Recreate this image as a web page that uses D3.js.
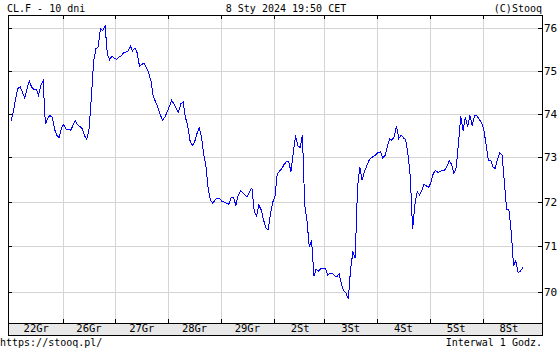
<!DOCTYPE html>
<html>
<head>
<meta charset="utf-8">
<script src="https://cdn.jsdelivr.net/npm/d3@7"></script>
<style>
  body { margin: 0; background: #fff; }
  text { font-family: "DejaVu Sans Mono", monospace; fill: #000; }
</style>
</head>
<body>
<script>
// hourly closes, CL.F, 22 Dec 2023 - 8 Jan 2024
var closes = [
  73.83, 74.05, 74.35, 74.59, 74.63, 74.50, 74.37, 74.59, 74.76, 74.62,
  74.56, 74.57, 74.43, 74.67, 74.76, 73.76, 73.90, 73.96, 73.92, 73.64,
  73.50, 73.45, 73.68, 73.76, 73.64, 73.64, 73.62, 73.73, 73.85, 73.75,
  73.71, 73.66, 73.50, 73.41, 73.64, 74.36, 75.22, 75.52, 75.56, 76.00,
  75.94, 76.07, 75.38, 75.26, 75.35, 75.29, 75.27, 75.32, 75.35, 75.42,
  75.44, 75.46, 75.58, 75.47, 75.54, 75.42, 75.11, 75.15, 75.18, 75.08,
  74.95, 74.76, 74.40, 74.28, 74.15, 73.99, 73.85, 73.92, 74.04, 74.17,
  74.31, 74.23, 74.12, 74.04, 74.23, 74.28, 73.92, 73.73, 73.39, 73.27,
  73.35, 73.54, 73.68, 73.47, 73.07, 72.78, 72.25, 72.03, 71.96, 72.05,
  72.07, 72.07, 72.00, 71.99, 71.96, 71.94, 72.10, 72.08, 71.92, 72.14,
  72.24, 72.20, 72.14, 72.11, 72.23, 72.31, 71.78, 71.67, 71.92, 71.82,
  71.60, 71.42, 71.36, 71.69, 71.98, 72.10, 72.61, 72.69, 72.74, 72.84,
  72.90, 72.90, 72.68, 73.09, 73.50, 73.27, 73.22, 73.52, 71.92, 71.56,
  70.98, 71.13, 70.34, 70.50, 70.45, 70.51, 70.51, 70.52, 70.37, 70.41,
  70.40, 70.35, 70.33, 70.39, 70.17, 70.02, 69.97, 69.84, 70.51, 70.87,
  70.74, 72.30, 72.79, 72.48, 72.67, 72.80, 72.93, 72.99, 73.03, 73.06,
  73.11, 73.13, 72.99, 73.04, 73.24, 73.43, 73.39, 73.48, 73.71, 73.43,
  73.51, 73.45, 73.40, 73.07, 72.57, 71.38, 71.92, 72.22, 72.15, 72.25,
  72.40, 72.35, 72.32, 72.43, 72.63, 72.70, 72.66, 72.68, 72.70, 72.71,
  72.80, 72.93, 72.84, 72.63, 72.76, 73.32, 73.95, 73.61, 73.93, 73.69,
  73.96, 73.73, 73.95, 73.95, 73.88, 73.80, 73.66, 73.30, 72.93, 72.94,
  72.78, 72.75, 72.96, 73.10, 73.05, 72.44, 71.82, 71.81, 71.31, 70.58,
  70.68, 70.42, 70.45, 70.53
]
var dayLabels = ["22Gr", "26Gr", "27Gr", "28Gr", "29Gr", "2St", "3St", "4St", "5St", "8St"]
var dayStarts = [0, 23, 46, 69, 92, 115, 137, 160, 183, 206]   // index of first hour of each session
var priceTicks = [70, 71, 72, 73, 74, 75, 76]

var svgWidth = 560
var svgHeight = 350
var plot = {left: 8, right: 542, top: 15, bottom: 323}
var stripBottom = 335

var svg = d3.select("body").append("svg")
    .attr("width", svgWidth)
    .attr("height", svgHeight)

var x = d3.scaleLinear().domain([-1.3, 231.4]).range([plot.left, plot.right])
var y = d3.scaleLog().domain([69.32, 76.32]).range([plot.bottom, plot.top])

// grid
svg.append("g").selectAll("line.h")
    .data(priceTicks).enter().append("line")
    .attr("x1", plot.left).attr("x2", plot.right)
    .attr("y1", d => Math.round(y(d)) + 0.5).attr("y2", d => Math.round(y(d)) + 0.5)
    .attr("stroke", "#d4d4d4")

var bounds = dayStarts.slice(1)
svg.append("g").selectAll("line.v")
    .data(bounds).enter().append("line")
    .attr("x1", d => Math.round(x(d - 0.5)) + 0.5).attr("x2", d => Math.round(x(d - 0.5)) + 0.5)
    .attr("y1", plot.top).attr("y2", plot.bottom)
    .attr("stroke", "#d4d4d4")

// date strip
svg.append("rect")
    .attr("x", plot.left + 0.5).attr("y", plot.bottom + 0.5)
    .attr("width", plot.right - plot.left).attr("height", stripBottom - plot.bottom)
    .attr("fill", "#e8e8e8").attr("stroke", "#000")

// ticks
var ticks = svg.append("g").attr("stroke", "#000")
bounds.forEach(d => {
    var xx = Math.round(x(d - 0.5)) + 0.5
    ticks.append("line").attr("x1", xx).attr("x2", xx).attr("y1", plot.top).attr("y2", plot.top + 4)
    ticks.append("line").attr("x1", xx).attr("x2", xx).attr("y1", plot.bottom - 4).attr("y2", plot.bottom)
})
priceTicks.forEach(d => {
    var yy = Math.round(y(d)) + 0.5
    ticks.append("line").attr("x1", plot.left).attr("x2", plot.left + 4).attr("y1", yy).attr("y2", yy)
    ticks.append("line").attr("x1", plot.right - 4).attr("x2", plot.right).attr("y1", yy).attr("y2", yy)
})

// frame
svg.append("rect")
    .attr("x", plot.left + 0.5).attr("y", plot.top + 0.5)
    .attr("width", plot.right - plot.left).attr("height", stripBottom - plot.top)
    .attr("fill", "none").attr("stroke", "#000")

// price line, drawn without antialiasing like the original
var line = d3.line()
    .x((d, i) => x(i))
    .y(d => y(d))
svg.append("path")
    .datum(closes)
    .attr("d", line)
    .attr("fill", "none")
    .attr("stroke", "#0000ff")
    .attr("stroke-width", 1)
    .attr("shape-rendering", "crispEdges")

// day labels
svg.append("g").selectAll("text")
    .data(dayLabels).enter().append("text")
    .attr("x", (d, i) => x(dayStarts[i] + 11))
    .attr("y", 332)
    .attr("text-anchor", "middle")
    .style("font-size", "10.5px")
    .text(d => d)

// price labels on the right
svg.append("g").selectAll("text")
    .data(priceTicks).enter().append("text")
    .attr("x", plot.right + 2)
    .attr("y", d => y(d) + 4)
    .style("font-size", "11px")
    .text(d => d)

// header / footer
svg.append("text").attr("x", 7).attr("y", 12).style("font-size", "10px").text("CL.F - 10 dni")
svg.append("text").attr("x", 286).attr("y", 12).attr("text-anchor", "middle").style("font-size", "10px").text("8 Sty 2024 19:50 CET")
svg.append("text").attr("x", 542).attr("y", 12).attr("text-anchor", "end").style("font-size", "10px").text("(C)Stooq")
svg.append("text").attr("x", 0).attr("y", 346).style("font-size", "10px").text("https://stooq.pl/")
svg.append("text").attr("x", 542).attr("y", 346).attr("text-anchor", "end").style("font-size", "10px").text("Interwal 1 Godz.")
</script>
</body>
</html>
